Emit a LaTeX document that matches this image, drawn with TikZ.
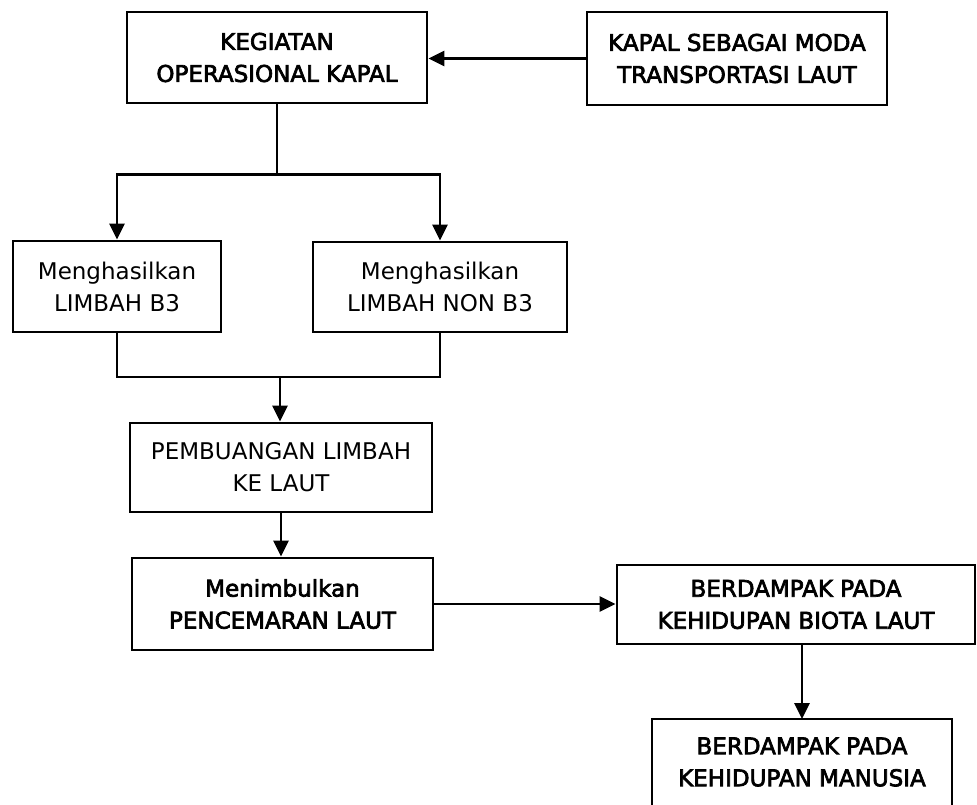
\documentclass[tikz,border=0pt]{standalone}
\usepackage{fontspec}
\setmainfont{DejaVu Sans}
\newfontfamily\heavyfont[FakeBold=3]{DejaVu Sans}
\usetikzlibrary{arrows.meta}

\tikzset{
  box/.style={draw, line width=1.4pt, align=center, inner sep=0pt,
    font=\fontsize{11.5pt}{16pt}\selectfont},
  heavy/.style={font=\fontsize{11.5pt}{16pt}\heavyfont},
  link/.style={line width=1.4pt},
  arr/.style={link, -{Triangle[length=8pt,width=7.5pt]}}
}

\begin{document}
\begin{tikzpicture}[x=0.5pt, y=-0.5pt]
\useasboundingbox (0,0) rectangle (977,804);

% process boxes (centres in pixel units, y downward)
\node[box, heavy, minimum width=150pt, minimum height=45.5pt] (keg) at (277,57.5)
  {KEGIATAN\\OPERASIONAL KAPAL};
\node[box, heavy, minimum width=150pt, minimum height=46.5pt] (kapal) at (737,58.5)
  {KAPAL SEBAGAI MODA\\TRANSPORTASI LAUT};
\node[box, minimum width=104pt, minimum height=45.5pt] (b3) at (117,286.5)
  {Menghasilkan\\LIMBAH B3};
\node[box, minimum width=127pt, minimum height=45pt] (nonb3) at (440,287)
  {Menghasilkan\\LIMBAH NON B3};
\node[box, minimum width=151pt, minimum height=44.5pt] (buang) at (281,467.5)
  {PEMBUANGAN LIMBAH\\KE LAUT};
\node[box, heavy, minimum width=150.5pt, minimum height=46pt] (cemar) at (282.5,604)
  {Menimbulkan\\PENCEMARAN LAUT};
\node[box, heavy, minimum width=179pt, minimum height=39.5pt] (biota) at (796,604.5)
  {BERDAMPAK PADA\\KEHIDUPAN BIOTA LAUT};
\node[box, heavy, draw=none, outer sep=0pt, minimum width=150pt, minimum height=43pt]
  (manusia) at (802,762) {BERDAMPAK PADA\\KEHIDUPAN MANUSIA};
% the lower box runs on past the bottom edge of the page
\draw[link] ([yshift=-12pt]manusia.south west) -- (manusia.north west)
  -- (manusia.north east) -- ([yshift=-12pt]manusia.south east);

% ship -> operations
\draw[arr] (kapal.west) -- (kapal.west -| keg.east);

% operations splits into two waste types
\draw[link] (keg.south) -- ++(0,70) coordinate (fork);
\draw[link, line cap=rect] (b3.north |- fork) -- (nonb3.north |- fork);
\draw[arr] (b3.north |- fork) -- (b3.north);
\draw[arr] (nonb3.north |- fork) -- (nonb3.north);

% both waste types merge into disposal
\coordinate (join) at (280,377);
\draw[link] (b3.south) |- (join) -| (nonb3.south);
\draw[arr] (join) -- (join |- buang.north);

% disposal -> pollution -> impacts
\draw[arr] (buang.south) -- (buang.south |- cemar.north);
\draw[arr] (cemar.east) -- (cemar.east -| biota.west);
\draw[arr] (manusia.north |- biota.south) -- (manusia.north);
\end{tikzpicture}
\end{document}
